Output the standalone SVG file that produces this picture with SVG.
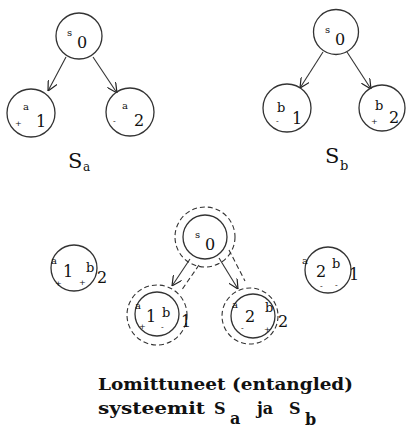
<svg xmlns="http://www.w3.org/2000/svg" width="406" height="434" viewBox="0 0 406 434">
<defs>
<marker id="arr" viewBox="0 0 10 10" refX="10" refY="5" markerWidth="10" markerHeight="10" markerUnits="userSpaceOnUse" orient="auto">
<path d="M0,0 L10,5 L0,10" fill="none" stroke="#222" stroke-width="1.2"/>
</marker>
<style>
.n{fill:none;stroke:#333;stroke-width:1.3}
.d{fill:none;stroke:#333;stroke-width:1.1;stroke-dasharray:5 3}
.e{stroke:#333;stroke-width:1.1;fill:none}
.t{font-family:"DejaVu Serif","Liberation Serif",serif;fill:#111}
.sm{font-size:10px}
.lg{font-size:16px}
.pm{font-size:8px}
.cap{font-family:"DejaVu Serif","Liberation Serif",serif;font-weight:bold;font-size:16px;fill:#111}
</style>
</defs>
<rect width="406" height="434" fill="#fff"/>
<g id="connectors">
<line class="e" x1="66" y1="57" x2="48" y2="91" marker-end="url(#arr)"/>
<line class="e" x1="93" y1="57" x2="117" y2="93" marker-end="url(#arr)"/>
<line class="e" x1="323" y1="52" x2="300" y2="88" marker-end="url(#arr)"/>
<line class="e" x1="347" y1="52" x2="371" y2="89" marker-end="url(#arr)"/>
<line class="e" x1="190" y1="259" x2="172" y2="286" marker-end="url(#arr)"/>
<line class="d" x1="199" y1="265" x2="181" y2="291"/>
<line class="e" x1="219" y1="258" x2="238" y2="289" marker-end="url(#arr)"/>
<line class="d" x1="229" y1="250" x2="245" y2="281"/>
</g>
<g id="sa-s0">
<circle class="n" cx="79" cy="36" r="23"/>
<text class="t sm" x="67" y="36">s</text><text class="t lg" x="77" y="48">0</text>
</g>
<g id="sa-a1">
<circle class="n" cx="31" cy="113" r="24"/>
<text class="t sm" x="23" y="110">a</text><text class="t lg" x="36" y="127">1</text>
<text class="t pm" x="15" y="126">+</text>
</g>
<g id="sa-a2">
<circle class="n" cx="130" cy="112" r="24"/>
<text class="t sm" x="122" y="109">a</text><text class="t lg" x="134" y="126">2</text>
<text class="t pm" x="113" y="124">-</text>
</g>
<g id="sa-label"><text class="t" font-size="21" x="68" y="168">S</text><text class="t" font-size="12" x="83" y="171">a</text></g>
<g id="sb-s0">
<circle class="n" cx="336" cy="32" r="22.5"/>
<text class="t sm" x="325" y="33">s</text><text class="t lg" x="335" y="45">0</text>
</g>
<g id="sb-b1">
<circle class="n" cx="287" cy="108" r="24"/>
<text class="t" font-size="13" x="277" y="112">b</text><text class="t lg" x="292" y="124">1</text>
<text class="t pm" x="276" y="124">-</text>
</g>
<g id="sb-b2">
<circle class="n" cx="382" cy="108" r="23"/>
<text class="t" font-size="13" x="375" y="110">b</text><text class="t lg" x="389" y="123">2</text>
<text class="t pm" x="371" y="124">+</text>
</g>
<g id="sb-label"><text class="t" font-size="21" x="325" y="163">S</text><text class="t" font-size="13" x="340" y="170">b</text></g>
<g id="e-a1b2">
<circle class="n" cx="74" cy="268" r="23"/>
<text class="t sm" x="51" y="264">a</text><text class="t lg" x="63" y="277">1</text>
<text class="t pm" x="55" y="286">+</text><text class="t pm" x="79" y="285">+</text>
<text class="t" font-size="13" x="86" y="272">b</text><text class="t lg" x="97" y="283">2</text>
</g>
<g id="e-s0">
<circle class="d" cx="205" cy="237" r="30"/>
<circle class="n" cx="205" cy="237" r="22"/>
<text class="t sm" x="195" y="238">s</text><text class="t lg" x="205" y="250">0</text>
</g>
<g id="e-a1b1">
<circle class="d" cx="157" cy="315" r="30"/>
<circle class="n" cx="157" cy="314" r="22"/>
<text class="t sm" x="135" y="309">a</text><text class="t lg" x="146" y="322">1</text>
<text class="t" font-size="13" x="162" y="317">b</text><text class="t lg" x="181" y="327">1</text>
<text class="t pm" x="139" y="329">+</text><text class="t pm" x="161" y="330">-</text>
</g>
<g id="e-a2b2">
<circle class="d" cx="250" cy="316" r="28"/>
<circle class="n" cx="253" cy="316" r="22"/>
<text class="t sm" x="232" y="308">a</text><text class="t lg" x="245" y="322">2</text>
<text class="t" font-size="13" x="265" y="312">b</text><text class="t lg" x="278" y="327">2</text>
<text class="t pm" x="241" y="331">-</text><text class="t pm" x="264" y="332">+</text>
</g>
<g id="e-a2b1">
<circle class="n" cx="328" cy="270" r="23"/>
<text class="t sm" x="302" y="264">a</text><text class="t lg" x="316" y="277">2</text>
<text class="t" font-size="13" x="332" y="268">b</text><text class="t lg" x="349" y="280">1</text>
<text class="t pm" x="320" y="289">-</text><text class="t pm" x="335" y="288">-</text>
</g>
<g id="caption">
<text class="cap" x="98" y="390" textLength="255" lengthAdjust="spacingAndGlyphs">Lomittuneet (entangled)</text>
<text class="cap" x="98" y="414" textLength="107" lengthAdjust="spacingAndGlyphs">systeemit</text>
<text class="cap" x="214" y="414">S</text><text class="cap" font-size="13" x="230" y="424">a</text>
<text class="cap" x="257" y="414">ja</text>
<text class="cap" x="289" y="414">S</text><text class="cap" font-size="13" x="305" y="425">b</text>
</g>
</svg>
